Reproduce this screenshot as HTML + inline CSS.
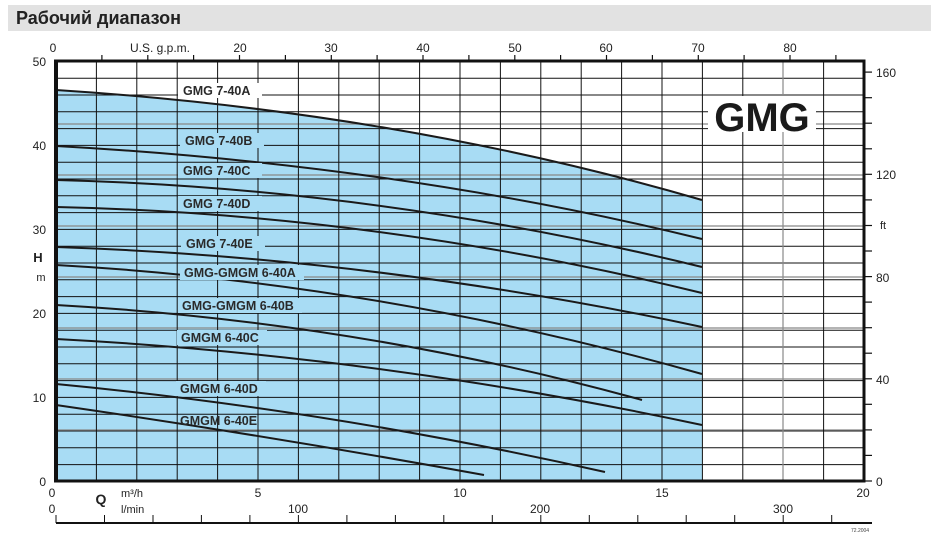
<!DOCTYPE html>
<html><head><meta charset="utf-8"><style>
html,body{margin:0;padding:0;background:#fff;}
svg{display:block;font-family:"Liberation Sans",sans-serif;}
</style></head><body>
<svg width="931" height="537" viewBox="0 0 931 537" xmlns="http://www.w3.org/2000/svg">
<rect x="8" y="5" width="923" height="26" fill="#e2e2e2"/>
<text x="16" y="24" font-size="18" font-weight="bold" fill="#222" font-family="Liberation Sans, DejaVu Sans, sans-serif">Рабочий диапазон</text>
<path d="M56,90 Q400,112 702,200 L702,481 L56,481 Z" fill="#a8dcf4"/>
<g id="grid">
<g stroke="#111" stroke-width="1">
<line x1="56" x2="864" y1="78.2" y2="78.2"/><line x1="56" x2="864" y1="95" y2="95"/><line x1="56" x2="864" y1="111.8" y2="111.8"/><line x1="56" x2="864" y1="128.6" y2="128.6"/><line x1="56" x2="864" y1="145.4" y2="145.4"/><line x1="56" x2="864" y1="162.2" y2="162.2"/><line x1="56" x2="864" y1="179" y2="179"/><line x1="56" x2="864" y1="195.8" y2="195.8"/><line x1="56" x2="864" y1="212.6" y2="212.6"/><line x1="56" x2="864" y1="229.4" y2="229.4"/><line x1="56" x2="864" y1="246.2" y2="246.2"/><line x1="56" x2="864" y1="263" y2="263"/><line x1="56" x2="864" y1="279.8" y2="279.8"/><line x1="56" x2="864" y1="296.6" y2="296.6"/><line x1="56" x2="864" y1="313.4" y2="313.4"/><line x1="56" x2="864" y1="330.2" y2="330.2"/><line x1="56" x2="864" y1="347" y2="347"/><line x1="56" x2="864" y1="363.8" y2="363.8"/><line x1="56" x2="864" y1="380.6" y2="380.6"/><line x1="56" x2="864" y1="397.4" y2="397.4"/><line x1="56" x2="864" y1="414.2" y2="414.2"/><line x1="56" x2="864" y1="431" y2="431"/><line x1="56" x2="864" y1="447.8" y2="447.8"/><line x1="56" x2="864" y1="464.6" y2="464.6"/>
</g>
<g stroke="#888" stroke-width="1.2">
<line x1="56" x2="864" y1="430" y2="430"/><line x1="56" x2="864" y1="379" y2="379"/><line x1="56" x2="864" y1="328" y2="328"/><line x1="56" x2="864" y1="277" y2="277"/><line x1="56" x2="864" y1="226" y2="226"/><line x1="56" x2="864" y1="175" y2="175"/><line x1="56" x2="864" y1="124" y2="124"/>
</g>
<g stroke="#111" stroke-width="1">
<line y1="61" y2="481" x1="96.4" x2="96.4"/><line y1="61" y2="481" x1="136.8" x2="136.8"/><line y1="61" y2="481" x1="177.2" x2="177.2"/><line y1="61" y2="481" x1="217.6" x2="217.6"/><line y1="61" y2="481" x1="258" x2="258"/><line y1="61" y2="481" x1="298.4" x2="298.4"/><line y1="61" y2="481" x1="338.8" x2="338.8"/><line y1="61" y2="481" x1="379.2" x2="379.2"/><line y1="61" y2="481" x1="419.6" x2="419.6"/><line y1="61" y2="481" x1="460" x2="460"/><line y1="61" y2="481" x1="500.4" x2="500.4"/><line y1="61" y2="481" x1="540.8" x2="540.8"/><line y1="61" y2="481" x1="581.2" x2="581.2"/><line y1="61" y2="481" x1="621.6" x2="621.6"/><line y1="61" y2="481" x1="662" x2="662"/><line y1="61" y2="481" x1="702.4" x2="702.4"/><line y1="61" y2="481" x1="742.8" x2="742.8"/><line y1="61" y2="481" x1="823.6" x2="823.6"/>
</g>
<g stroke="#888" stroke-width="1.2"><line y1="61" y2="481" x1="783" x2="783"/></g>
</g>
<g fill="none" stroke="#1a1a1a" stroke-width="2">
<path d="M56,90 Q400,112 702,200"/>
<path d="M56,146 Q400,165 702,239"/>
<path d="M56,180 Q380,188 702,267"/>
<path d="M56,207 Q380,214 702,293"/>
<path d="M56,247 Q380,258 702,327"/>
<path d="M56,265 Q380,283 702,374"/>
<path d="M56,305 Q360,322 642,400"/>
<path d="M56,339 Q380,356 702,425"/>
<path d="M56,384 Q330,410 605,472"/>
<path d="M56,405 Q270,436 484,475"/>
</g>
<g font-size="12.5" font-weight="bold" fill="#2a2a2a">
<rect x="178" y="83" width="84" height="15" fill="#fff"/><text x="183" y="95">GMG 7-40A</text>
<rect x="180" y="133" width="84" height="15" fill="#a8dcf4"/><text x="185" y="145">GMG 7-40B</text>
<rect x="178" y="163" width="84" height="15" fill="#a8dcf4"/><text x="183" y="175">GMG 7-40C</text>
<rect x="178" y="196" width="84" height="15" fill="#a8dcf4"/><text x="183" y="208">GMG 7-40D</text>
<rect x="181" y="236" width="84" height="15" fill="#a8dcf4"/><text x="186" y="248">GMG 7-40E</text>
<rect x="180" y="265" width="124" height="15" fill="#a8dcf4"/><text x="184" y="277">GMG-GMGM 6-40A</text>
<rect x="178" y="298" width="124" height="15" fill="#a8dcf4"/><text x="182" y="310">GMG-GMGM 6-40B</text>
<rect x="177" y="330" width="90" height="15" fill="#a8dcf4"/><text x="181" y="342">GMGM 6-40C</text>
<rect x="176" y="381" width="90" height="15" fill="#a8dcf4"/><text x="180" y="393">GMGM 6-40D</text>
<text x="180" y="425">GMGM 6-40E</text>
</g>
<rect x="708" y="96" width="108" height="36" fill="#fff"/>
<text x="762" y="131" font-size="40" font-weight="bold" fill="#1a1a1a" text-anchor="middle">GMG</text>
<line x1="56" y1="61" x2="864" y2="61" stroke="#111" stroke-width="3"/>
<line x1="56" y1="481" x2="864" y2="481" stroke="#111" stroke-width="3"/>
<line x1="56" y1="59.5" x2="56" y2="482.5" stroke="#111" stroke-width="4"/>
<line x1="864" y1="59.5" x2="864" y2="482.5" stroke="#111" stroke-width="3"/>
<g stroke="#111" stroke-width="1.2">
<line x1="101.9" x2="101.9" y1="55" y2="61"/><line x1="147.8" x2="147.8" y1="55" y2="61"/><line x1="193.6" x2="193.6" y1="55" y2="61"/><line x1="239.5" x2="239.5" y1="55" y2="61"/><line x1="285.4" x2="285.4" y1="55" y2="61"/><line x1="331.3" x2="331.3" y1="55" y2="61"/><line x1="377.1" x2="377.1" y1="55" y2="61"/><line x1="423" x2="423" y1="55" y2="61"/><line x1="468.9" x2="468.9" y1="55" y2="61"/><line x1="514.8" x2="514.8" y1="55" y2="61"/><line x1="560.6" x2="560.6" y1="55" y2="61"/><line x1="606.5" x2="606.5" y1="55" y2="61"/><line x1="652.4" x2="652.4" y1="55" y2="61"/><line x1="698.3" x2="698.3" y1="55" y2="61"/><line x1="744.1" x2="744.1" y1="55" y2="61"/><line x1="790" x2="790" y1="55" y2="61"/><line x1="835.9" x2="835.9" y1="55" y2="61"/>
</g>
<g font-size="12" fill="#222" text-anchor="middle">
<text x="53" y="52">0</text><text x="160" y="52">U.S. g.p.m.</text><text x="240" y="52">20</text><text x="331" y="52">30</text><text x="423" y="52">40</text><text x="515" y="52">50</text><text x="606" y="52">60</text><text x="698" y="52">70</text><text x="790" y="52">80</text>
</g>
<g font-size="12" fill="#222" text-anchor="end">
<text x="46" y="66">50</text><text x="46" y="150">40</text><text x="46" y="234">30</text><text x="46" y="318">20</text><text x="46" y="402">10</text><text x="46" y="486">0</text>
</g>
<text x="38" y="262" font-size="13" font-weight="bold" fill="#222" text-anchor="middle">H</text>
<text x="41" y="281" font-size="11" fill="#222" text-anchor="middle">m</text>
<g stroke="#111" stroke-width="1.2">
<line x1="864" x2="872" y1="481" y2="481"/><line x1="864" x2="872" y1="455.4" y2="455.4"/><line x1="864" x2="872" y1="429.9" y2="429.9"/><line x1="864" x2="872" y1="404.3" y2="404.3"/><line x1="864" x2="872" y1="378.8" y2="378.8"/><line x1="864" x2="872" y1="353.2" y2="353.2"/><line x1="864" x2="872" y1="327.7" y2="327.7"/><line x1="864" x2="872" y1="302.1" y2="302.1"/><line x1="864" x2="872" y1="276.6" y2="276.6"/><line x1="864" x2="872" y1="251" y2="251"/><line x1="864" x2="872" y1="225.5" y2="225.5"/><line x1="864" x2="872" y1="199.9" y2="199.9"/><line x1="864" x2="872" y1="174.3" y2="174.3"/><line x1="864" x2="872" y1="148.8" y2="148.8"/><line x1="864" x2="872" y1="123.2" y2="123.2"/><line x1="864" x2="872" y1="97.7" y2="97.7"/><line x1="864" x2="872" y1="72.1" y2="72.1"/>
</g>
<g font-size="12" fill="#222">
<text x="876" y="486">0</text><text x="876" y="384">40</text><text x="876" y="282">80</text><text x="876" y="179">120</text><text x="876" y="77">160</text>
<text x="880" y="229" font-size="11">ft</text>
</g>
<g font-size="12" fill="#222" text-anchor="middle">
<text x="52" y="497">0</text><text x="258" y="497">5</text><text x="460" y="497">10</text><text x="662" y="497">15</text><text x="863" y="497">20</text>
<text x="52" y="513">0</text><text x="298" y="513">100</text><text x="540" y="513">200</text><text x="783" y="513">300</text>
</g>
<text x="101" y="504" font-size="14" font-weight="bold" fill="#222" text-anchor="middle">Q</text>
<text x="121" y="497" font-size="11" fill="#222">m³/h</text>
<text x="121" y="513" font-size="11" fill="#222">l/min</text>
<line x1="56" y1="523" x2="872" y2="523" stroke="#111" stroke-width="2"/>
<g stroke="#111" stroke-width="1">
<line x1="56" x2="56" y1="515" y2="523"/><line x1="104.5" x2="104.5" y1="515" y2="523"/><line x1="153" x2="153" y1="515" y2="523"/><line x1="201.4" x2="201.4" y1="515" y2="523"/><line x1="249.9" x2="249.9" y1="515" y2="523"/><line x1="298.4" x2="298.4" y1="515" y2="523"/><line x1="346.9" x2="346.9" y1="515" y2="523"/><line x1="395.4" x2="395.4" y1="515" y2="523"/><line x1="443.8" x2="443.8" y1="515" y2="523"/><line x1="492.3" x2="492.3" y1="515" y2="523"/><line x1="540.8" x2="540.8" y1="515" y2="523"/><line x1="589.3" x2="589.3" y1="515" y2="523"/><line x1="637.8" x2="637.8" y1="515" y2="523"/><line x1="686.2" x2="686.2" y1="515" y2="523"/><line x1="734.7" x2="734.7" y1="515" y2="523"/><line x1="783.2" x2="783.2" y1="515" y2="523"/><line x1="831.7" x2="831.7" y1="515" y2="523"/>
</g>
<text x="851" y="532" font-size="5" fill="#444">72.2004</text>
</svg>
</body></html>
